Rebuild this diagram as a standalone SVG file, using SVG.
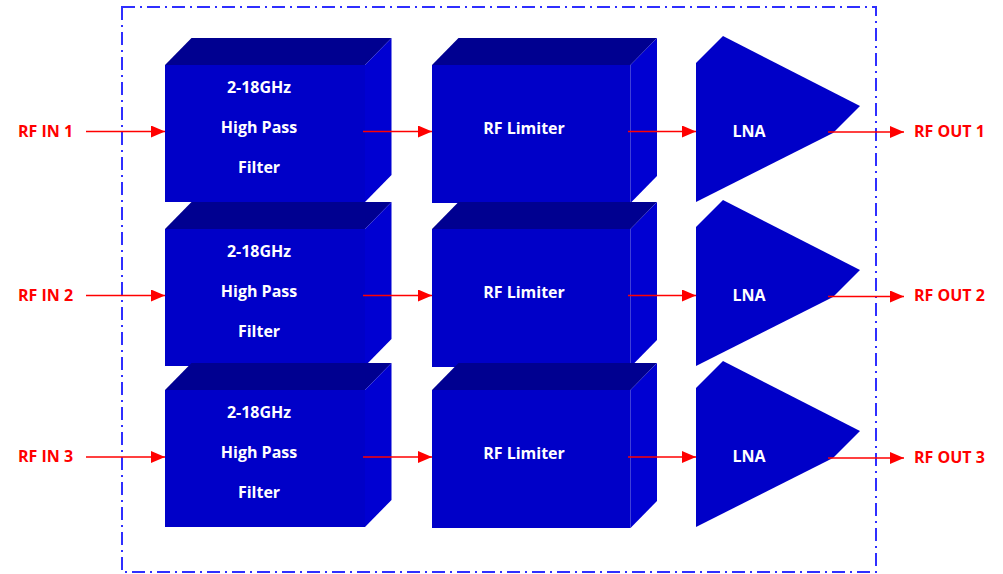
<svg xmlns="http://www.w3.org/2000/svg" width="1003" height="574" viewBox="0 0 1003 574">
  <defs>
    <style>
      .front { fill: #0000C8; }
      .top { fill: #000090; }
      .side { fill: #0000D2; }
      .lna { fill: #0000C8; }
      .wt { font-family: "Open Sans", "DejaVu Sans", sans-serif; font-weight: bold; font-size: 16px; fill: #FFFFFF; text-anchor: middle; }
      .rt { font-family: "Open Sans", "DejaVu Sans", sans-serif; font-weight: bold; font-size: 16px; fill: #FF0000; }
      .wire { stroke: #FF0000; stroke-width: 1.6; fill: none; marker-end: url(#ah); }
      .frame { fill: none; stroke: #2F2FFF; stroke-width: 2; stroke-dasharray: 13 5 2 5; }
    </style>
    <marker id="ah" markerUnits="userSpaceOnUse" markerWidth="14" markerHeight="12" viewBox="0 0 14 12" refX="14" refY="6" orient="auto">
      <path d="M0,0 L14,6 L0,12 Z" fill="#FF0000"/>
    </marker>
    <g id="filterBox">
      <polygon class="top" points="0,0 26.5,-27 226.5,-27 200,0"/>
      <polygon class="side" points="200,0 226.5,-27 226.5,110 200,137"/>
      <rect class="front" x="0" y="0" width="200" height="137"/>
    </g>
    <g id="limBox">
      <polygon class="top" points="0,0 26.5,-27 225,-27 198.5,0"/>
      <polygon class="side" points="198.5,0 225,-27 225,111 198.5,138"/>
      <rect class="front" x="0" y="0" width="198.5" height="138"/>
    </g>
    <polygon id="lnaShape" class="lna" points="0,0 27,-27 164,43 137,70 0,139"/>
  </defs>

  <rect id="frame" class="frame" x="122" y="7" width="754" height="565"/>

  <!-- Row 1 -->
  <g id="filter1">
    <use href="#filterBox" x="165" y="65"/>
    <text class="wt" x="259" y="93">2-18GHz</text>
    <text class="wt" x="259" y="133">High Pass</text>
    <text class="wt" x="259" y="173">Filter</text>
  </g>
  <g id="limiter1">
    <use href="#limBox" x="432" y="65"/>
    <text class="wt" x="524" y="134">RF Limiter</text>
  </g>
  <g id="lna1">
    <use href="#lnaShape" x="696" y="63"/>
    <text class="wt" x="749" y="137">LNA</text>
  </g>

  <!-- Row 2 -->
  <g id="filter2">
    <use href="#filterBox" x="165" y="229"/>
    <text class="wt" x="259" y="257">2-18GHz</text>
    <text class="wt" x="259" y="297">High Pass</text>
    <text class="wt" x="259" y="337">Filter</text>
  </g>
  <g id="limiter2">
    <use href="#limBox" x="432" y="229"/>
    <text class="wt" x="524" y="298">RF Limiter</text>
  </g>
  <g id="lna2">
    <use href="#lnaShape" x="696" y="227"/>
    <text class="wt" x="749" y="301">LNA</text>
  </g>

  <!-- Row 3 -->
  <g id="filter3">
    <use href="#filterBox" x="165" y="390"/>
    <text class="wt" x="259" y="418">2-18GHz</text>
    <text class="wt" x="259" y="458">High Pass</text>
    <text class="wt" x="259" y="498">Filter</text>
  </g>
  <g id="limiter3">
    <use href="#limBox" x="432" y="390"/>
    <text class="wt" x="524" y="459">RF Limiter</text>
  </g>
  <g id="lna3">
    <use href="#lnaShape" x="696" y="388"/>
    <text class="wt" x="749" y="462">LNA</text>
  </g>

  <!-- IO labels -->
  <g id="labels">
    <text class="rt" x="18" y="137">RF IN 1</text>
    <text class="rt" x="18" y="301">RF IN 2</text>
    <text class="rt" x="18" y="462">RF IN 3</text>
    <text class="rt" x="914" y="137">RF OUT 1</text>
    <text class="rt" x="914" y="301">RF OUT 2</text>
    <text class="rt" x="914" y="463">RF OUT 3</text>
  </g>

  <!-- Connectors -->
  <g id="connectors">
    <line class="wire" x1="86" y1="131.5" x2="165" y2="131.5"/>
    <line class="wire" x1="363" y1="131.5" x2="432" y2="131.5"/>
    <line class="wire" x1="628" y1="131.5" x2="696" y2="131.5"/>
    <line class="wire" x1="828" y1="132" x2="904" y2="132"/>

    <line class="wire" x1="86" y1="295.5" x2="165" y2="295.5"/>
    <line class="wire" x1="363" y1="295.5" x2="432" y2="295.5"/>
    <line class="wire" x1="628" y1="295.5" x2="696" y2="295.5"/>
    <line class="wire" x1="828" y1="296.5" x2="904" y2="296.5"/>

    <line class="wire" x1="86" y1="457" x2="165" y2="457"/>
    <line class="wire" x1="363" y1="457" x2="432" y2="457"/>
    <line class="wire" x1="628" y1="457" x2="696" y2="457"/>
    <line class="wire" x1="828" y1="458" x2="904" y2="458"/>
  </g>
</svg>
